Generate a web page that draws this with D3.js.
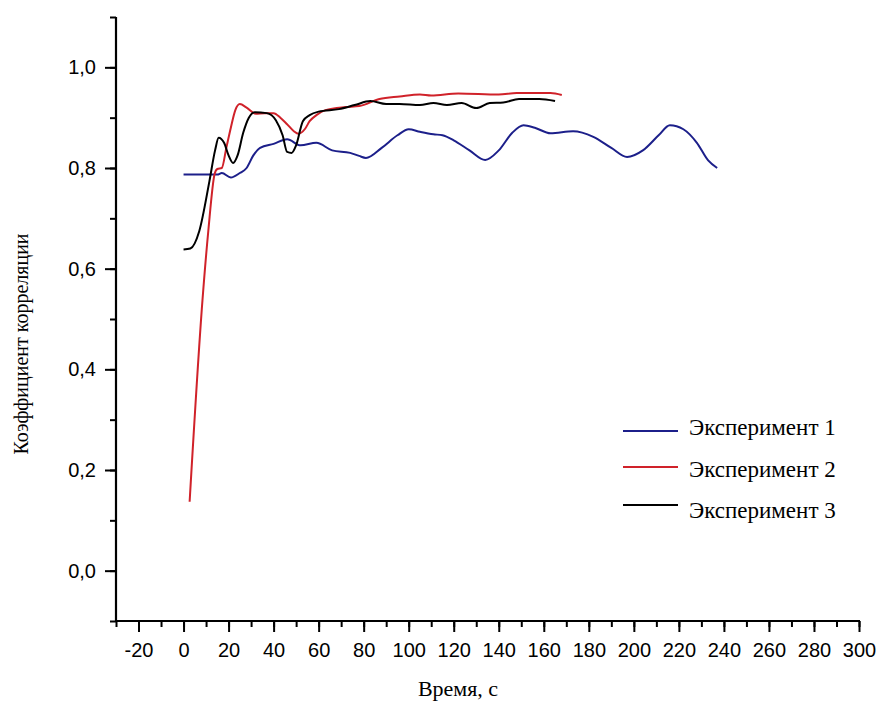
<!DOCTYPE html>
<html>
<head>
<meta charset="utf-8">
<script src="https://cdn.jsdelivr.net/npm/d3@7"></script>
<style>
  html, body { margin: 0; padding: 0; background: #fff; }
  svg { display: block; }
  .tick text { font-family: "Liberation Sans", Arial, sans-serif; font-size: 20px; fill: #000; }
  .title { font-family: "Liberation Serif", "Times New Roman", serif; fill: #000; }
  .legend text { font-family: "Liberation Serif", "Times New Roman", serif; font-size: 23px; fill: #000; }
</style>
</head>
<body>
<svg id="chart" width="882" height="702"></svg>
<script>
// Correlation coefficient vs. time for three experiments
const series1 = [
  [0, 0.787], [7, 0.787], [15, 0.787], [17, 0.79], [21, 0.781], [25, 0.79], [28, 0.80],
  [31, 0.825], [34, 0.84], [40, 0.848], [46, 0.857], [52, 0.845], [59, 0.85], [66, 0.835],
  [74, 0.83], [78, 0.824], [81, 0.82], [88, 0.84], [95, 0.865], [100, 0.877], [105, 0.872],
  [111, 0.867], [115, 0.865], [120, 0.855], [127, 0.835], [134, 0.816], [140, 0.835],
  [146, 0.87], [151, 0.885], [156, 0.88], [163, 0.869], [173, 0.873], [182, 0.862],
  [190, 0.84], [197, 0.822], [204, 0.835], [211, 0.865], [216, 0.885], [222, 0.877],
  [228, 0.85], [233, 0.815], [237, 0.80]
];
const series2 = [
  [2.7, 0.137], [8.4, 0.537], [11, 0.675], [13.8, 0.788], [15, 0.798], [17, 0.80],
  [19, 0.84], [21, 0.88], [23, 0.915], [25, 0.927], [28, 0.92], [32, 0.908], [36, 0.909],
  [40, 0.909], [43, 0.90], [46, 0.887], [49, 0.873], [51, 0.868], [54, 0.878], [56, 0.893],
  [59, 0.905], [63, 0.915], [72, 0.921], [78, 0.923], [87, 0.937], [96, 0.942],
  [105, 0.946], [110, 0.944], [122, 0.948], [140, 0.946], [148, 0.949], [163, 0.949],
  [168, 0.945]
];
const series3 = [
  [0, 0.638], [3, 0.64], [7, 0.675], [11.5, 0.774], [14, 0.835], [15.6, 0.86], [18, 0.85],
  [20, 0.825], [22, 0.81], [24, 0.825], [26.5, 0.87], [29, 0.9], [31.6, 0.911], [37, 0.909],
  [41, 0.895], [44, 0.865], [46, 0.832], [48, 0.83], [50, 0.845], [53, 0.893], [56, 0.905],
  [60, 0.912], [69, 0.917], [76, 0.925], [83, 0.933], [90, 0.927], [96, 0.927],
  [105, 0.925], [111, 0.929], [117, 0.925], [123.5, 0.929], [130, 0.919], [136, 0.929],
  [142, 0.93], [149, 0.937], [158, 0.937], [165, 0.933]
];
const seriesNames = ["Эксперимент 1", "Эксперимент 2", "Эксперимент 3"];
const seriesColors = ["#1c1f8a", "#d0222a", "#000000"];
const xTicks = d3.range(-20, 301, 20);
const yTicks = [0, 0.2, 0.4, 0.6, 0.8, 1.0];
const xLabel = "Время, с";
const yLabel = "Коэффициент корреляции";

const svg = d3.select("#chart");
const plot = { left: 116, right: 859, top: 17, bottom: 621 };

const x = d3.scaleLinear().domain([-30, 300]).range([plot.left, plot.right]);
const y = d3.scaleLinear().domain([-0.1, 1.1]).range([plot.bottom, plot.top]);

const fmtY = d => d.toFixed(1).replace(".", ",");
const fmtX = d => String(d);

// minor ticks
const xMinor = d3.axisBottom(x).tickValues(d3.range(-30, 301, 10)).tickSize(6).tickFormat("");
const yMinor = d3.axisLeft(y).tickValues(d3.range(-1, 12).map(v => v / 10)).tickSize(6).tickFormat("");

const gxm = svg.append("g").attr("transform", `translate(0,${plot.bottom})`).call(xMinor);
const gym = svg.append("g").attr("transform", `translate(${plot.left},0)`).call(yMinor);

const xAxis = d3.axisBottom(x).tickValues(xTicks).tickSize(11).tickPadding(11).tickFormat(fmtX);
const yAxis = d3.axisLeft(y).tickValues(yTicks).tickSize(11).tickPadding(9).tickFormat(fmtY);

const gx = svg.append("g").attr("transform", `translate(0,${plot.bottom})`).call(xAxis);
const gy = svg.append("g").attr("transform", `translate(${plot.left},0)`).call(yAxis);

[gxm, gym, gx, gy].forEach(g => {
  g.selectAll(".domain").remove();
  g.selectAll(".tick line").attr("stroke", "#000").attr("stroke-width", 2);
});

// axis lines
svg.append("line").attr("x1", plot.left).attr("x2", plot.left).attr("y1", plot.top).attr("y2", plot.bottom + 1)
  .attr("stroke", "#000").attr("stroke-width", 2.2);
svg.append("line").attr("x1", plot.left - 1).attr("x2", plot.right + 1).attr("y1", plot.bottom).attr("y2", plot.bottom)
  .attr("stroke", "#000").attr("stroke-width", 2.2);

// data lines
const line = d3.line().x(d => x(d[0])).y(d => y(d[1])).curve(d3.curveMonotoneX);
[series1, series2, series3].forEach((s, i) => {
  svg.append("path").datum(s).attr("d", line)
    .attr("fill", "none").attr("stroke", seriesColors[i]).attr("stroke-width", 2)
    .attr("stroke-linejoin", "round");
});

// axis titles
svg.append("text").attr("class", "title").attr("x", 458).attr("y", 696)
  .style("font-size", "22px").attr("text-anchor", "middle").text(xLabel);
svg.append("text").attr("class", "title")
  .attr("transform", `translate(28,344) rotate(-90)`)
  .style("font-size", "20px").attr("text-anchor", "middle").text(yLabel);

// legend
const legendLineY = [431, 467, 505];
const legendTextY = [435, 477, 518];
const lg = svg.append("g").attr("class", "legend");
seriesNames.forEach((name, i) => {
  lg.append("line").attr("x1", 623).attr("x2", 678).attr("y1", legendLineY[i]).attr("y2", legendLineY[i])
    .attr("stroke", seriesColors[i]).attr("stroke-width", 2);
  lg.append("text").attr("x", 689).attr("y", legendTextY[i]).text(name);
});
</script>
</body>
</html>
